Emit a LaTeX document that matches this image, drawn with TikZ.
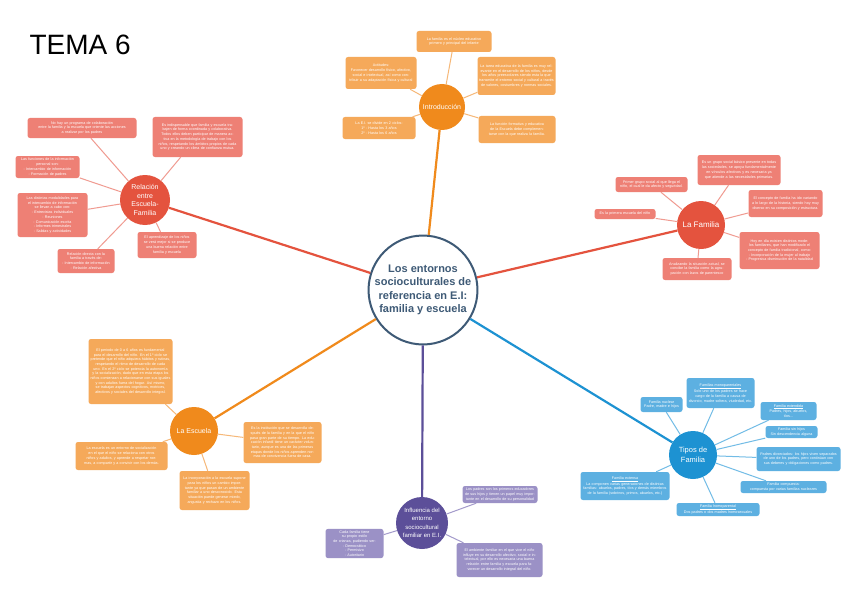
\documentclass[tikz,border=0pt]{standalone}
\usepackage{fontspec}
\setmainfont{Liberation Sans}
\setsansfont{Liberation Sans}
\definecolor{obx}{HTML}{F5A95A}
\definecolor{ohb}{HTML}{F08A1C}
\definecolor{oln}{HTML}{F6B878}
\definecolor{rbx}{HTML}{EE8075}
\definecolor{rhb}{HTML}{E4533E}
\definecolor{rln}{HTML}{F09B91}
\definecolor{bbx}{HTML}{5DB0E1}
\definecolor{bhb}{HTML}{1D92D2}
\definecolor{bln}{HTML}{72BCE6}
\definecolor{pbx}{HTML}{9B91C6}
\definecolor{phb}{HTML}{5C4F99}
\definecolor{pln}{HTML}{A39ACB}
\definecolor{cen}{HTML}{3E5A76}
\tikzset{
  bx/.style={rounded corners=2.5pt, inner sep=1.5pt, align=center, text=white,
    font=\fontsize{3.7}{4.7}\selectfont},
  obox/.style={bx, fill=obx},
  rbox/.style={bx, fill=rbx},
  bbox/.style={bx, fill=bbx},
  pbox/.style={bx, fill=pbx},
  hub/.style={circle, inner sep=0pt, align=center, text=white, font=\fontsize{7}{8.5}\selectfont},
  ohub/.style={hub, fill=ohb},
  rhub/.style={hub, fill=rhb},
  bhub/.style={hub, fill=bhb},
  phub/.style={hub, fill=phb},
  sub/.style={line width=1pt},
  mainln/.style={line width=2.2pt},
}
\newcommand\bx[7]{%
  \pgfmathsetmacro\bxw{#5-#3-4}\pgfmathsetmacro\bxh{#6-#4}%
  \pgfmathsetmacro\bxcx{(#3+#5)/2}\pgfmathsetmacro\bxcy{(#4+#6)/2}%
  \node[#1, text width=\bxw pt, minimum height=\bxh pt] (#2) at (\bxcx,\bxcy) {#7};}
\begin{document}
\begin{tikzpicture}[x=1pt,y=-1pt]
\useasboundingbox[fill=white] (0,0) rectangle (848,599);
\node[font=\fontsize{28}{30}\selectfont, anchor=west] (title) at (26,45) {TEMA 6};
% center
\node[circle, draw=cen, line width=2pt, fill=white, minimum size=102pt, inner sep=0pt, align=center,
  text=cen, font=\fontsize{11}{13.5}\selectfont\bfseries] (C) at (423,290)
  {Los entornos\\socioculturales de\\referencia en E.I:\\familia y escuela};
% hubs
\node[ohub, minimum size=46pt] (hI) at (442,107) {Introducción};
\node[rhub, minimum size=50pt] (hR) at (145,200) {Relación\\entre\\Escuela-\\Familia};
\node[rhub, minimum size=48pt, font=\fontsize{8}{9}\selectfont] (hF) at (701,225) {La Familia};
\node[ohub, minimum size=48pt] (hE) at (194,431) {La Escuela};
\node[bhub, minimum size=48pt, font=\fontsize{7.5}{9.5}\selectfont] (hT) at (693,455) {Tipos de\\Familia};
\node[phub, minimum size=52pt, font=\fontsize{6}{8.5}\selectfont] (hN) at (422,523) {Influencia del\\entorno\\sociocultural\\familiar en E.I.};
% main connectors
\draw[mainln, ohb] (C) -- (hI);
\draw[mainln, rhb] (C) -- (hR);
\draw[mainln, rhb] (C) -- (hF);
\draw[mainln, ohb] (C) -- (hE);
\draw[mainln, bhb] (C) -- (hT);
\draw[mainln, phb] (C) -- (hN);
% Introduccion boxes
\bx{obox}{iT}{416}{31}{492}{52}{La familia es el núcleo educativo\\primero y principal del infante}
\bx{obox}{iL}{345}{57}{417}{89}{Actitudes:\\Favorecer desarrollo físico, afectivo, social e intelectual, así como contribuir a su adaptación física y cultural}
\bx{obox}{iR}{477}{57}{556}{95}{La tarea educativa de la familia es muy relevante en el desarrollo de los niños, desde los años preescolares siendo esta la que transmite el entorno social y cultural a través de valores, costumbres y normas sociales.}
\bx{obox}{iLL}{342}{117}{416}{139}{La E.I. se divide en 2 ciclos:\\1º - Hasta los 3 años\\2º - Hasta los 6 años}
\bx{obox}{iLR}{478}{116}{556}{143}{La función formativa y educativa de la Escuela debe complementarse con la que realiza la familia.}
\draw[sub, oln] (hI) -- (iT);
\draw[sub, oln] (hI) -- (iL);
\draw[sub, oln] (hI) -- (iR);
\draw[sub, oln] (hI) -- (iLL);
\draw[sub, oln] (hI) -- (iLR);
% Relacion boxes
\bx{rbox}{rT}{27}{118}{137}{138}{No hay un programa de colaboración\\entre la familia y la escuela que oriente las acciones\\a realizar por los padres}
\bx{rbox}{rTR}{152}{117}{243}{157}{Es indispensable que familia y escuela trabajen de forma coordinada y colaborativa. Todos ellos deben participar de manera activa en la metodología de trabajo con los niños, respetando los ámbitos propios de cada uno y creando un clima de confianza mutua.}
\bx{rbox}{rL1}{15}{156}{80}{178}{Las funciones de la información\\personal son:\\- Intercambio de información\\- Formación de padres}
\bx{rbox}{rL2}{17}{193}{88}{237}{Las distintas modalidades para\\el intercambio de información\\se llevan a cabo con:\\- Entrevistas individuales\\- Reuniones\\- Comunicación escrita\\- Informes trimestrales\\- Salidas y actividades}
\bx{rbox}{rBR}{137}{232}{197}{258}{El aprendizaje de los niños\\se verá mejor si se produce\\una buena relación entre\\familia y escuela}
\bx{rbox}{rB}{57}{249}{115}{273}{Relación directa con la\\familia a través de:\\- Intercambio de información\\- Relación afectiva}
\draw[sub, rln] (hR) -- (rT);
\draw[sub, rln] (hR) -- (rTR);
\draw[sub, rln] (hR) -- (rL1);
\draw[sub, rln] (hR) -- (rL2);
\draw[sub, rln] (hR) -- (rBR);
\draw[sub, rln] (hR) -- (rB);
% Familia boxes
\bx{rbox}{fT}{697}{155}{781}{185}{Es un grupo social básico presente en todas las sociedades, se apoya fundamentalmente en vínculos afectivos y es necesaria ya que atiende a las necesidades primarias.}
\bx{rbox}{fLT}{615}{177}{688}{192}{Primer grupo social al que llega el\\niño, el cual le da afecto y seguridad.}
\bx{rbox}{fL}{594}{209}{656}{219}{Es la primera escuela del niño}
\bx{rbox}{fRT}{748}{190}{823}{217}{El concepto de familia ha ido variando a lo largo de la historia, siendo hoy muy diverso en su composición y estructura.}
\bx{rbox}{fRB}{739}{232}{820}{269}{Hoy en día existen distintos modelos familiares, que han modificado el concepto de familia tradicional, como:\\- Incorporación de la mujer al trabajo\\- Progresiva disminución de la natalidad}
\bx{rbox}{fB}{662}{258}{732}{280}{Analizando la situación actual, se concibe la familia como la agrupación con lazos de parentesco}
\draw[sub, rln] (hF) -- (fT);
\draw[sub, rln] (hF) -- (fLT);
\draw[sub, rln] (hF) -- (fL);
\draw[sub, rln] (hF) -- (fRT);
\draw[sub, rln] (hF) -- (fRB);
\draw[sub, rln] (hF) -- (fB);
% Escuela boxes
\bx{obox}{eT}{88}{339}{173}{404}{El periodo de 0 a 6 años es fundamental para el desarrollo del niño. En el 1º ciclo se pretende que el niño adquiera hábitos y rutinas, respetando el ritmo de desarrollo de cada uno. En el 2º ciclo se potencia la autonomía y la socialización, dado que en esta etapa los niños comienzan a relacionarse con sus iguales y con adultos fuera del hogar. Así mismo, se trabajan aspectos cognitivos, motrices, afectivos y sociales del desarrollo integral.}
\bx{obox}{eR}{243}{422}{322}{463}{Es la institución que se desarrolla después de la familia y en la que el niño pasa gran parte de su tiempo. La educación infantil tiene un carácter voluntario, aunque es una de las primeras etapas donde los niños aprenden normas de convivencia fuera de casa.}
\bx{obox}{eL}{75}{442}{168}{470}{La escuela es un entorno de socialización en el que el niño se relaciona con otros niños y adultos, y aprende a respetar normas, a compartir y a convivir con los demás.}
\bx{obox}{eB}{179}{471}{250}{510}{La incorporación a la escuela supone para los niños un cambio importante ya que pasan de un ambiente familiar a uno desconocido. Esta situación puede generar miedo, angustia y rechazo en los niños.}
\draw[sub, oln] (hE) -- (eT);
\draw[sub, oln] (hE) -- (eR);
\draw[sub, oln] (hE) -- (eL);
\draw[sub, oln] (hE) -- (eB);
% Tipos boxes
\bx{bbox}{tT}{686}{378}{755}{408}{\underline{Familias monoparentales}\\Solo uno de los padres se hace cargo de la familia a causa de divorcio, madre soltera, viudedad, etc.}
\bx{bbox}{tUL}{640}{397}{683}{412}{Familia nuclear\\Padre, madre e hijos}
\bx{bbox}{tR1}{760}{402}{817}{420}{\underline{Familia extendida}\\Padres, hijos, abuelos,\\tíos...}
\bx{bbox}{tR2}{765}{426}{818}{438}{Familia sin hijos\\Sin descendencia alguna}
\bx{bbox}{tR3}{756}{447}{841}{471}{Padres divorciados: los hijos viven separados de uno de los padres, pero continúan con sus deberes y obligaciones como padres.}
\bx{bbox}{tR4}{740}{481}{827}{493}{Familia compuesta:\\compuesta por varias familias nucleares}
\bx{bbox}{tL}{580}{472}{670}{500}{\underline{Familia extensa}\\La componen varias generaciones de distintas familias: abuelos, padres, tíos y demás miembros de la familia (sobrinos, primos, abuelos, etc.)}
\bx{bbox}{tB}{676}{503}{760}{516}{\underline{Familia homoparental}\\Dos padres o dos madres homosexuales}
\draw[sub, bln] (hT) -- (tT);
\draw[sub, bln] (hT) -- (tUL);
\draw[sub, bln] (hT) -- (tR1);
\draw[sub, bln] (hT) -- (tR2);
\draw[sub, bln] (hT) -- (tR3);
\draw[sub, bln] (hT) -- (tR4);
\draw[sub, bln] (hT) -- (tL);
\draw[sub, bln] (hT) -- (tB);
% Influencia boxes
\bx{pbox}{nTR}{462}{486}{538}{503}{Los padres son los primeros educadores de sus hijos y tienen un papel muy importante en el desarrollo de su personalidad}
\bx{pbox}{nL}{325}{531}{384}{556}{Cada familia tiene su propio estilo\\de crianza, pudiendo ser:\\- Democrático\\- Permisivo\\- Autoritario}
\bx{pbox}{nBR}{456}{543}{543}{577}{El ambiente familiar en el que vive el niño influye en su desarrollo afectivo, social e intelectual, por ello es necesaria una buena relación entre familia y escuela para favorecer un desarrollo integral del niño.}
\draw[sub, pln] (hN) -- (nTR);
\draw[sub, pln] (hN) -- (nL);
\draw[sub, pln] (hN) -- (nBR);
\end{tikzpicture}
\end{document}
